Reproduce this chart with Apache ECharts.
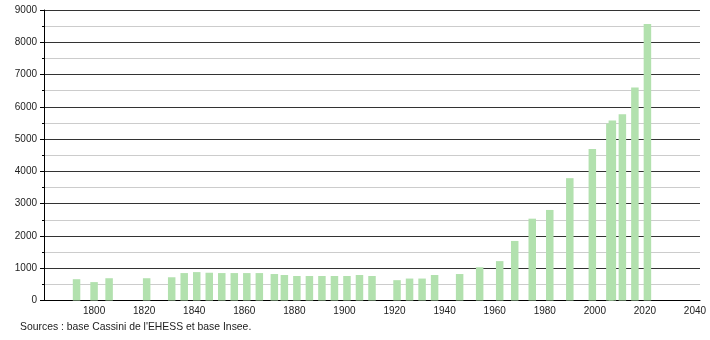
<!DOCTYPE html>
<html>
<head>
<meta charset="utf-8">
<script src="https://cdn.jsdelivr.net/npm/echarts@6/dist/echarts.min.js"></script>
<style>
html,body{margin:0;padding:0;background:#fff;}
#c{width:710px;height:340px;}
</style>
</head>
<body>
<div id="c"></div>
<script>
const years = [1793,1800,1806,1821,1831,1836,1841,1846,1851,1856,1861,1866,1872,1876,1881,1886,1891,1896,1901,1906,1911,1921,1926,1931,1936,1946,1954,1962,1968,1975,1982,1990,1999,2006,2007,2011,2016,2021];
const population = [660,570,690,690,720,850,880,860,850,850,850,850,820,790,760,760,760,760,760,790,760,630,680,680,790,820,1030,1220,1845,2535,2805,3790,4690,5480,5580,5770,6600,8570];
const yTicks = [0,1000,2000,3000,4000,5000,6000,7000,8000,9000];
const xTicks = [1800,1820,1840,1860,1880,1900,1920,1940,1960,1980,2000,2020,2040];
const sourceText = "Sources : base Cassini de l'EHESS et base Insee.";

const chart = echarts.init(document.getElementById('c'));
chart.setOption({
  animation:false,
  textStyle:{fontFamily:'Liberation Sans, Arial, sans-serif'},
  grid:{left:44,right:10,top:10,bottom:39.5,containLabel:false},
  xAxis:{
    type:'value', min:1780, max:2042, interval:20,
    axisLine:{show:true,lineStyle:{color:'#000',width:1}},
    axisTick:{show:false},
    splitLine:{show:false},
    axisLabel:{color:'#222',fontSize:10,margin:6,showMaxLabel:false,
      formatter:v=> xTicks.indexOf(v)>=0 ? String(v) : ''}
  },
  yAxis:{
    type:'value', min:yTicks[0], max:yTicks[yTicks.length-1], interval:1000,
    axisLine:{show:true,lineStyle:{color:'#000',width:1}},
    axisTick:{show:true,length:4,lineStyle:{color:'#000'}},
    minorTick:{show:true,splitNumber:2,length:2,lineStyle:{color:'#000'}},
    splitLine:{show:true,lineStyle:{color:'#333',width:1}},
    minorSplitLine:{show:true,lineStyle:{color:'#ccc',width:1}},
    axisLabel:{color:'#222',fontSize:10,margin:7,formatter:v=>String(v)}
  },
  series:[{
    type:'bar',
    data:years.map((y,i)=>[y,population[i]]),
    barWidth:7.5,
    itemStyle:{color:'#b2e1ae'},
    z:3
  }],
  graphic:[{
    type:'text', left:20, top:322,
    style:{text:sourceText,fill:'#222',font:'10.4px Liberation Sans, Arial, sans-serif'}
  }]
});
</script>
</body>
</html>
